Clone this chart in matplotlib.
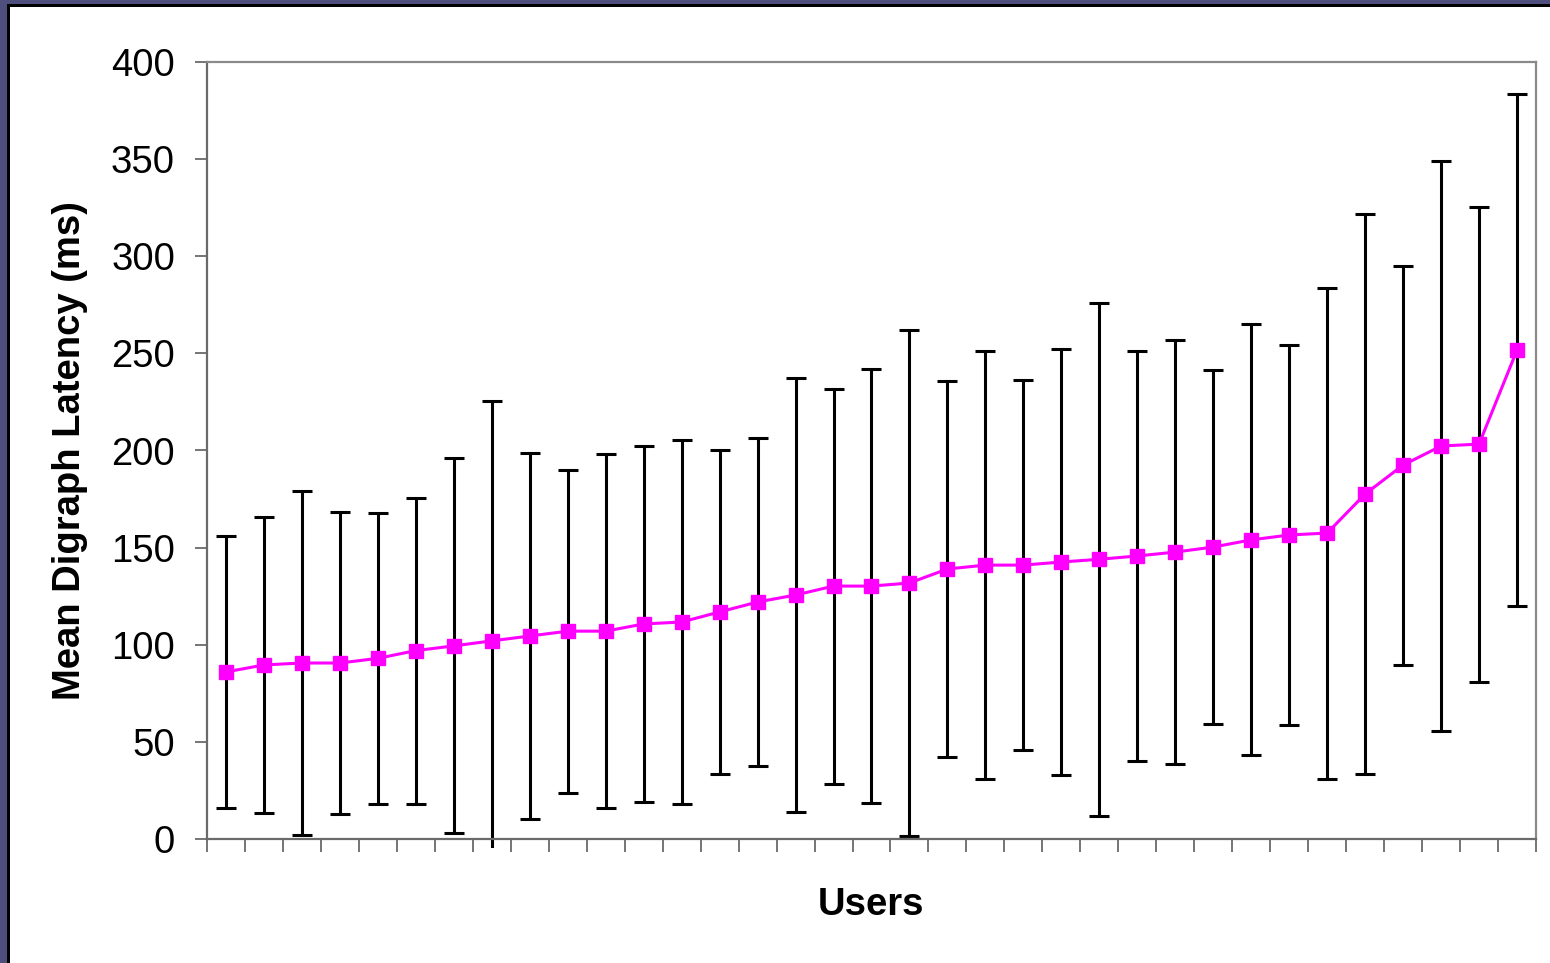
import matplotlib
matplotlib.use("Agg")
import matplotlib.pyplot as plt
from matplotlib.patches import Rectangle
import numpy as np

plt.rcParams['font.family'] = ['Liberation Sans', 'DejaVu Sans']

users = [f"U{i}" for i in range(1, 36)]
mean_latency = [86, 89.6, 90.6, 90.6, 93, 97, 99.4, 102, 104.5, 107,
                107, 110.7, 111.7, 116.9, 122, 125.6, 130.2, 130.2, 131.8, 139,
                141, 141, 142.6, 144, 145.7, 147.7, 150.3, 154, 156.5, 157.5,
                177.6, 192.5, 202.3, 203.3, 251.7]
std_latency = [70, 76.2, 88.6, 77.5, 74.9, 78.8, 96.5, 123.5, 94.2, 83.2,
               91.2, 91.7, 93.8, 83.4, 84.5, 111.7, 101.7, 111.5, 130.3, 97,
               110.2, 95.3, 109.7, 132, 105.3, 109.2, 90.9, 111, 97.8, 126.4,
               143.9, 102.7, 146.5, 122.3, 132]
y_ticks = [0, 50, 100, 150, 200, 250, 300, 350, 400]

W, H = 1550, 963
fig = plt.figure(figsize=(W / 100, H / 100), dpi=100)
fig.patch.set_facecolor('#4f4f7d')
fig.patches.append(Rectangle((7 / W, 0), 1, 1 - 4 / H, transform=fig.transFigure,
                             facecolor='black', edgecolor='none', zorder=-2))
fig.patches.append(Rectangle((10 / W, 0), 1, 1 - 7 / H, transform=fig.transFigure,
                             facecolor='white', edgecolor='none', zorder=-1))

ax = fig.add_axes([207 / W, 1 - 839 / H, (1536 - 207) / W, (839 - 62) / H])
ax.set_facecolor('white')

x = np.arange(len(users))
eb = ax.errorbar(x, mean_latency, yerr=std_latency, fmt='none', ecolor='black',
                 elinewidth=2.2, capsize=7, capthick=2.2, zorder=2)
clip = Rectangle((0, -0.012), 1, 1.024, transform=ax.transAxes)
for art in list(eb.lines[1]) + list(eb.lines[2]):
    art.set_clip_path(clip)

ax.plot(x, mean_latency, color='#ff00ff', linewidth=2.2, marker='s',
        markersize=10.5, markerfacecolor='#ff00ff', markeredgecolor='#ff00ff', zorder=3)

ax.set_xlim(-0.5, len(users) - 0.5)
ax.set_ylim(0, 400)
ax.set_yticks(y_ticks)
ax.set_yticklabels([str(v) for v in y_ticks], fontsize=27.5)
ax.set_xticks(np.arange(-0.5, len(users), 1.0))
ax.set_xticklabels([])

for s in ax.spines.values():
    s.set_color('#8a8a8a')
    s.set_linewidth(1.6)
ax.spines['left'].set_color('#6a6a6a')
ax.spines['bottom'].set_color('#6a6a6a')
ax.tick_params(axis='y', direction='out', length=9, width=1.3, color='#6a6a6a', pad=14)
ax.tick_params(axis='x', direction='out', length=9, width=1.3, color='#6a6a6a')

ax.set_ylabel('Mean Digraph Latency (ms)', fontsize=27.5, fontweight='bold')
ax.yaxis.set_label_coords((70 - 207) / (1536 - 207), 0.5)
ax.set_xlabel('Users', fontsize=27.5, fontweight='bold')
ax.xaxis.set_label_coords(0.5, -(905 - 839) / (839 - 62))
ax.xaxis.label.set_va('center')
ax.yaxis.label.set_va('center')

fig.savefig('out.png', dpi=100, facecolor=fig.get_facecolor())
